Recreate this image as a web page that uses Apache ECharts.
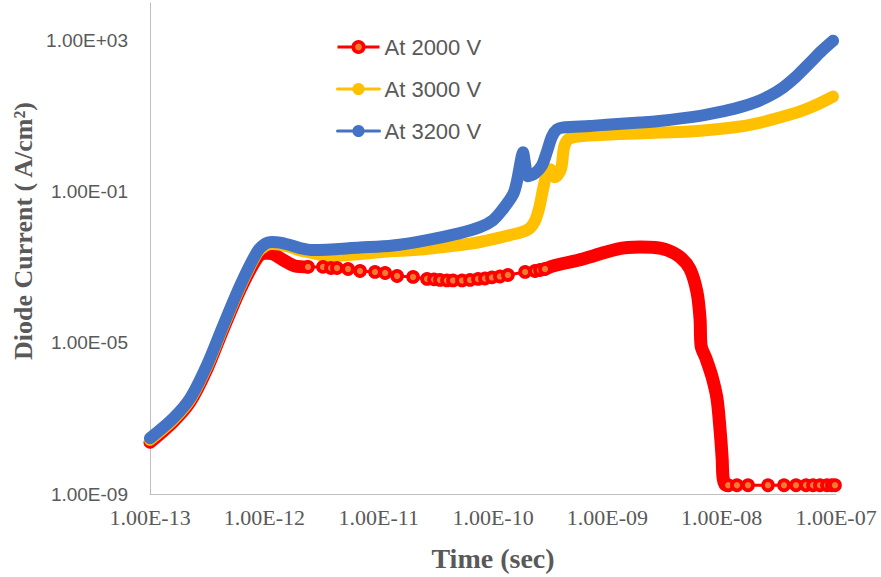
<!DOCTYPE html>
<html>
<head>
<meta charset="utf-8">
<script src="https://cdn.jsdelivr.net/npm/echarts@6/dist/echarts.min.js"></script>
<style>
html,body{margin:0;padding:0;background:#ffffff;}
#chart{width:881px;height:577px;}
</style>
</head>
<body>
<div id="chart"></div>
<script>
const seriesNames = ['At 2000 V', 'At 3000 V', 'At 3200 V'];
const xTickLabels = ['1.00E-13', '1.00E-12', '1.00E-11', '1.00E-10', '1.00E-09', '1.00E-08', '1.00E-07'];
const yTickLabels = ['1.00E-09', '1.00E-05', '1.00E-01', '1.00E+03'];
const xTitle = 'Time (sec)';
const yTitle = 'Diode Current ( A/cm\u00B2)';

// At 2000 V : [time (s), current (A/cm²)]
const v2000Rise = [
  [1.0e-13, 2.33e-8], [1.59e-13, 8.1e-8], [2.24e-13, 2.75e-7], [3.16e-13, 2.1e-6],
  [4.36e-13, 2.30e-5], [6.12e-13, 2.54e-4], [8.63e-13, 1.77e-3], [1.01e-12, 2.40e-3],
  [1.19e-12, 2.26e-3], [1.46e-12, 1.57e-3], [1.85e-12, 1.09e-3]
];
const v2000Plateau = [
  [2.41e-12, 1.03e-3], [3.26e-12, 1.03e-3], [3.83e-12, 9.65e-4], [4.32e-12, 9.65e-4],
  [5.40e-12, 9.08e-4], [6.87e-12, 8.04e-4], [9.29e-12, 7.57e-4], [1.14e-11, 7.12e-4],
  [1.45e-11, 5.93e-4], [2.0e-11, 5.58e-4], [2.65e-11, 4.94e-4], [3.05e-11, 4.80e-4],
  [3.44e-11, 4.65e-4], [3.96e-11, 4.51e-4], [4.47e-11, 4.51e-4], [5.36e-11, 4.51e-4],
  [6.30e-11, 4.65e-4], [7.40e-11, 4.94e-4], [8.51e-11, 5.09e-4], [9.80e-11, 5.42e-4],
  [1.15e-10, 5.75e-4], [1.35e-10, 6.30e-4], [1.91e-10, 7.57e-4], [2.33e-10, 8.04e-4],
  [2.58e-10, 8.54e-4], [2.85e-10, 9.08e-4]
];
const v2000Peak = [
  [3.35e-10, 1.09e-3], [6.12e-10, 1.67e-3], [1.22e-9, 3.06e-3], [1.93e-9, 3.45e-3],
  [2.61e-9, 3.35e-3], [3.33e-9, 2.88e-3], [4.32e-9, 1.88e-3], [5.28e-9, 9.08e-4],
  [6.08e-9, 2.24e-4], [6.47e-9, 4.36e-5], [6.61e-9, 8.4e-6], [7.30e-9, 3.83e-6],
  [8.23e-9, 1.28e-6], [9.10e-9, 3.37e-7], [9.66e-9, 5.45e-8], [1.01e-8, 8.8e-9],
  [1.03e-8, 2.61e-9], [1.09e-8, 1.71e-9]
];
const v2000Tail = [
  [1.14e-8, 1.7e-9], [1.36e-8, 1.7e-9], [1.70e-8, 1.7e-9], [2.54e-8, 1.7e-9],
  [3.51e-8, 1.7e-9], [4.47e-8, 1.7e-9], [5.47e-8, 1.7e-9], [6.30e-8, 1.7e-9],
  [7.24e-8, 1.7e-9], [8.34e-8, 1.7e-9], [9.2e-8, 1.7e-9], [9.8e-8, 1.7e-9]
];

// At 3000 V
const v3000 = [
  [1.0e-13, 2.71e-8], [1.59e-13, 9.1e-8], [2.24e-13, 3.1e-7], [3.16e-13, 2.4e-6],
  [4.36e-13, 2.59e-5], [6.12e-13, 2.94e-4], [8.63e-13, 2.33e-3], [1.01e-12, 3.67e-3],
  [1.17e-12, 4.14e-3], [1.37e-12, 4.02e-3], [1.68e-12, 3.45e-3], [2.05e-12, 2.79e-3],
  [2.67e-12, 2.40e-3], [3.53e-12, 2.0e-3], [6.87e-12, 2.26e-3], [1.33e-11, 2.71e-3],
  [2.30e-11, 2.96e-3], [5.14e-11, 3.9e-3], [7.69e-11, 4.7e-3], [1.41e-10, 7.16e-3],
  [1.98e-10, 9.7e-3], [2.28e-10, 1.49e-2], [2.52e-10, 3.48e-2], [2.74e-10, 0.117],
  [2.91e-10, 0.258], [3.15e-10, 0.394], [3.49e-10, 0.243], [3.93e-10, 0.394],
  [4.18e-10, 1.50], [4.53e-10, 2.44], [5.54e-10, 2.93], [1.05e-9, 3.31],
  [2.36e-9, 3.62], [5.28e-9, 3.97], [1.45e-8, 5.38], [2.39e-8, 7.29],
  [3.96e-8, 11.1], [5.36e-8, 15.1], [6.83e-8, 20.5], [9.4e-8, 33.3]
];

// At 3200 V
const v3200 = [
  [1.0e-13, 3.0e-8], [1.59e-13, 1.0e-7], [2.24e-13, 3.4e-7], [3.16e-13, 2.65e-6],
  [4.36e-13, 2.84e-5], [6.12e-13, 3.23e-4], [8.63e-13, 2.55e-3], [1.01e-12, 4.14e-3],
  [1.17e-12, 4.68e-3], [1.37e-12, 4.54e-3], [1.68e-12, 3.9e-3], [2.05e-12, 3.25e-3],
  [2.67e-12, 2.88e-3], [6.87e-12, 3.35e-3], [1.33e-11, 3.78e-3], [2.65e-11, 5.28e-3],
  [5.14e-11, 8.09e-3], [7.69e-11, 1.16e-2], [1.0e-10, 1.78e-2], [1.20e-10, 3.27e-2],
  [1.50e-10, 8.65e-2], [1.62e-10, 0.19], [1.76e-10, 0.724], [1.83e-10, 1.11],
  [1.91e-10, 0.535], [2.02e-10, 0.258], [2.33e-10, 0.31], [2.68e-10, 0.504],
  [2.97e-10, 1.18], [3.28e-10, 2.93], [3.63e-10, 4.49], [4.09e-10, 5.06],
  [7.05e-10, 5.55], [1.05e-9, 6.08], [1.93e-9, 6.86], [2.72e-9, 7.4],
  [6.47e-9, 10.3], [1.03e-8, 13.6], [1.45e-8, 17.5], [2.04e-8, 24.6],
  [2.65e-8, 35.4], [3.44e-8, 57.5], [4.39e-8, 106], [5.15e-8, 172],
  [6.29e-8, 316], [7.69e-8, 580], [9.42e-8, 1000]
];

const RED = '#FF0000', ORANGE = '#ED7D31', YELLOW = '#FFC000', BLUE = '#4472C4';
const TXT = '#595959', AXIS = '#BFBFBF';

function pickLabel(list, v) {
  const lv = Math.log10(v);
  for (const s of list) {
    if (Math.abs(Math.log10(parseFloat(s)) - lv) < 0.01) return s;
  }
  return '';
}

function band(name, data, color, width) {
  return {
    name: name, type: 'line', data: data, symbol: 'none', showSymbol: false,
    smooth: 0.3, clip: false, silent: true,
    lineStyle: { color: color, width: width, cap: 'round', join: 'round' },
    itemStyle: { color: color, borderColor: color }
  };
}
function markers(name, data) {
  return {
    name: name, type: 'line', data: data, symbol: 'circle', symbolSize: 10,
    showSymbol: true, showAllSymbol: true, clip: false, silent: true,
    lineStyle: { color: RED, width: 3 },
    itemStyle: { color: ORANGE, borderColor: RED, borderWidth: 3.7 }
  };
}

const bandRise = v2000Rise.concat([v2000Plateau[0]]);
const bandPeak = [v2000Plateau[v2000Plateau.length - 1]].concat(v2000Peak, [v2000Tail[0]]);

const chart = echarts.init(document.getElementById('chart'), null, { renderer: 'svg' });
chart.setOption({
  animation: false,
  backgroundColor: '#ffffff',
  grid: { left: 150, right: 45, top: 3, bottom: 81, containLabel: false },
  xAxis: {
    type: 'log', logBase: 10, min: 1e-13, max: 1e-7, interval: 1,
    name: xTitle, nameLocation: 'middle', nameGap: 50,
    nameTextStyle: { fontFamily: 'Liberation Serif', fontWeight: 'bold', fontSize: 28, color: TXT },
    axisLine: { show: true, lineStyle: { color: AXIS, width: 1 } },
    axisTick: { show: false },
    splitLine: { show: false },
    minorTick: { show: false },
    axisLabel: {
      margin: 12, fontFamily: 'Liberation Serif', fontSize: 22, color: TXT,
      formatter: function (v) { return pickLabel(xTickLabels, v); }
    }
  },
  yAxis: {
    type: 'log', logBase: 10, min: 1e-9, max: 1e4, interval: 1,
    axisLine: { show: true, lineStyle: { color: AXIS, width: 1 } },
    axisTick: { show: false },
    splitLine: { show: false },
    axisLabel: {
      margin: 22, fontFamily: 'Liberation Sans', fontSize: 19, color: TXT,
      showMaxLabel: false,
      formatter: function (v) { return pickLabel(yTickLabels, v); }
    }
  },
  graphic: [{
    type: 'text', x: 23, y: 231, rotation: Math.PI / 2,
    style: {
      text: yTitle, fill: TXT, align: 'center', verticalAlign: 'middle',
      font: 'bold 26px "Liberation Serif"'
    }
  }],
  legend: {
    orient: 'vertical', left: 331, top: 31, itemWidth: 42, itemHeight: 13, itemGap: 20,
    textStyle: { fontFamily: 'Liberation Sans', fontSize: 22, color: TXT },
    lineStyle: { width: 3 },
    data: [
      { name: seriesNames[0], itemStyle: { borderWidth: 3.7 } },
      { name: seriesNames[1], itemStyle: { borderWidth: 1.7 } },
      { name: seriesNames[2], itemStyle: { borderWidth: 1.7 } }
    ]
  },
  series: [
    band('band2000a', bandRise, RED, 13),
    band('band2000b', bandPeak, RED, 13),
    markers(seriesNames[0], v2000Plateau),
    markers(seriesNames[0], v2000Tail),
    band(seriesNames[1], v3000, YELLOW, 12),
    band(seriesNames[2], v3200, BLUE, 12)
  ]
});
</script>
</body>
</html>
